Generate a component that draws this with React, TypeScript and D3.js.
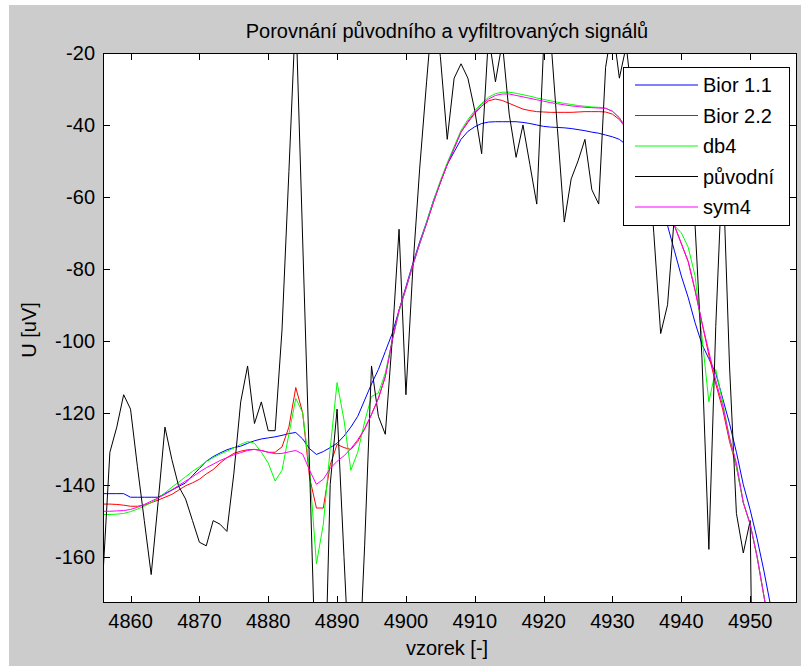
import React from 'react';
import * as d3 from 'd3';

// sample numbers start at 4856, one value per sample
const firstSample = 4856;

const bior11 = [
  -142.5, -142.5, -142.5, -142.5, -143.5, -143.5, -143.5, -143.5, -143.5, -142.5,
  -141.5, -140.5, -139.5, -137.5, -135.5, -133.5, -132.2, -131.2, -130.3, -129.7,
  -129.3, -128.5, -127.8, -127.3, -127, -126.7, -126.3, -125.8, -125.5, -127.3,
  -130, -131.6, -130.8, -129.7, -128.5, -126.5, -124, -121, -116.5, -112,
  -108, -103, -98, -91.5, -85, -78.5, -72.5, -67, -61, -56,
  -51, -47.5, -44, -41.8, -40.5, -39.6, -39.2, -39.1, -39.1, -39.1,
  -39.1, -39.3, -39.6, -40, -40.4, -40.6, -40.7, -40.8, -41, -41.3,
  -41.6, -42, -42.3, -42.8, -43.3, -44, -45.5, -47.5, -50.5, -54.5,
  -59, -63.5, -68, -75, -82, -88, -95, -101, -105, -109,
  -116, -123, -131, -140, -147, -155, -164, -174,
];

const bior22 = [
  -145.4, -145.4, -145.5, -145.7, -146, -146, -145.7, -145, -144.3, -143.5,
  -142.7, -141.5, -140.3, -139.5, -138.5, -137, -135.8, -134, -132.5, -131.3,
  -130.7, -130.3, -130.2, -130.5, -131, -131, -129.5, -124, -113, -120,
  -138, -146.5, -146.5, -134.5, -128.8, -129.7, -130.2, -128, -124.5, -120.5,
  -116, -110, -100, -91.5, -85.5, -79, -73, -67.4, -61.5, -56,
  -51, -46.5, -42, -39.3, -36.8, -34.8, -33.3, -32.8, -33.2, -34,
  -34.8, -35.6, -36, -36.3, -36.4, -36.5, -36.5, -36.5, -36.5, -36.4,
  -36.3, -36.3, -36.3, -36.4, -37, -38.5, -41, -45, -50, -55,
  -60.5, -64, -66, -68, -73, -78, -86, -95, -104, -112,
  -119, -128, -135, -145, -151, -160, -171, -182,
];

const db4 = [
  -148.3, -148.3, -148.2, -148, -147.5, -146.8, -146, -145, -143.8, -142.3,
  -140.7, -139.3, -137.8, -136.3, -135, -133.6, -132.5, -131.5, -130.7, -129.8,
  -128.8, -128, -128.5, -131, -134, -139, -136, -126, -116, -120,
  -136, -162, -151, -130, -111.6, -122, -136, -131, -122.5, -115.5,
  -114.5, -109, -100, -92, -85.5, -79, -73, -67, -61, -55.5,
  -50.5, -46, -41.5, -38.5, -36, -34, -32.3, -31.3, -30.9, -30.9,
  -31.2, -31.6, -32, -32.5, -32.9, -33.3, -33.7, -34, -34.3, -34.6,
  -34.8, -35, -35.1, -35.3, -36.2, -38, -41, -45, -50, -55,
  -60, -64, -66, -68, -70, -74, -82, -99, -117, -108,
  -117, -127, -135, -145, -151, -160, -171, -182,
];

const puvodni = [
  -165, -131, -124, -115, -119, -135, -150, -165, -145, -124,
  -133, -140.5, -144, -150, -156, -157, -150, -151, -153, -137,
  -117, -107, -123, -117, -125, -125, -97, -53, -8, -72,
  -135, -200, -215, -140, -119, -160, -200, -200, -157, -107,
  -121, -126, -100, -69, -115, -80, -52, -28, -5, -21,
  -44, -27, -23, -27, -36, -48, -15, -28, -17, -37,
  -49, -40, -51, -62, -18, -15, -41, -67, -55, -50,
  -44, -58, -62, -24, -12, -27, -18, -35, -30, -45,
  -70, -98, -90, -65, -40, -45, -68, -105, -158, -96,
  -50, -107, -148, -159, -150, -300,
];

const sym4 = [
  -147.4, -147.4, -147.3, -147.2, -146.9, -146.3, -145.5, -144.6, -143.7, -142.7,
  -141.5, -140.2, -139, -137.8, -136.5, -135.3, -134.3, -133.3, -132.5, -131.7,
  -131.1, -130.5, -130.2, -130.5, -131, -131.4, -131.3, -130.9, -130.5, -131.5,
  -136, -139.9, -138.5, -135.5, -133.5, -132, -130, -127.5, -124.5, -120.5,
  -116, -110, -100, -91.5, -85.5, -79, -73, -67.4, -61.5, -56,
  -51, -46.5, -42, -39, -36.5, -34.3, -32.8, -31.8, -31.4, -31.4,
  -31.8, -32.2, -32.6, -33, -33.4, -33.8, -34.1, -34.4, -34.7, -34.9,
  -35.1, -35.2, -35.3, -35.4, -36.2, -38, -41, -45, -50, -55,
  -60.5, -64, -66, -68, -73, -78, -86, -95, -103, -111,
  -118, -127, -134, -145, -151, -160, -171, -182,
];

const xTicks = [4860, 4870, 4880, 4890, 4900, 4910, 4920, 4930, 4940, 4950];
const yTicks = [-160, -140, -120, -100, -80, -60, -40, -20];

const series = [
  { name: 'Bior 1.1', values: bior11, color: '#0000ff' },
  { name: 'Bior 2.2', values: bior22, color: '#ff0000' },
  { name: 'db4', values: db4, color: '#00ff00' },
  { name: 'původní', values: puvodni, color: '#000000' },
  { name: 'sym4', values: sym4, color: '#ff00ff' },
];

const W = 801;
const H = 666;
const plot = { left: 103, top: 53, right: 797, bottom: 603 };
const font = '"Liberation Sans", Arial, sans-serif';
const fs = 20;

export default function App() {
  const x = d3.scaleLinear().domain([4856, 4956.8]).range([plot.left, plot.right]);
  const y = d3.scaleLinear().domain([-172.9, -20]).range([plot.bottom, plot.top]);

  const line = d3.line<number>()
    .x((_, i) => x(firstSample + i))
    .y(d => y(d));

  const tick = 7;
  const legend = { x: 623, y: 67, w: 166, h: 158 };

  return (
    <svg width={W} height={H} style={{ position: 'absolute', left: 0, top: 0 }} fontFamily={font}>
      <defs>
        <clipPath id="plotClip">
          <rect x={plot.left} y={plot.top} width={plot.right - plot.left} height={plot.bottom - plot.top} />
        </clipPath>
      </defs>
      <rect x={0} y={0} width={W} height={H} fill="#ffffff" />
      <rect x={9} y={5} width={W - 9} height={H - 5} fill="#cccccc" />
      <rect x={plot.left} y={plot.top} width={plot.right - plot.left} height={plot.bottom - plot.top} fill="#ffffff" />

      <g clipPath="url(#plotClip)">
        {series.map(s => (
          <path key={s.name} d={line(s.values) || ''} fill="none" stroke={s.color} strokeWidth={1} />
        ))}
      </g>

      {/* frame and ticks */}
      <rect x={plot.left + 0.5} y={plot.top + 0.5} width={plot.right - plot.left - 1} height={plot.bottom - plot.top - 1}
        fill="none" stroke="#000" strokeWidth={1} />
      {xTicks.map(t => (
        <g key={t}>
          <line x1={Math.round(x(t)) + 0.5} x2={Math.round(x(t)) + 0.5} y1={plot.bottom} y2={plot.bottom - tick} stroke="#000" />
          <line x1={Math.round(x(t)) + 0.5} x2={Math.round(x(t)) + 0.5} y1={plot.top} y2={plot.top + tick} stroke="#000" />
          <text x={x(t)} y={628} textAnchor="middle" fontSize={fs} fill="#000">{t}</text>
        </g>
      ))}
      {yTicks.map(t => (
        <g key={t}>
          <line x1={plot.left} x2={plot.left + tick} y1={Math.round(y(t)) + 0.5} y2={Math.round(y(t)) + 0.5} stroke="#000" />
          <line x1={plot.right} x2={plot.right - tick} y1={Math.round(y(t)) + 0.5} y2={Math.round(y(t)) + 0.5} stroke="#000" />
          <text x={95} y={y(t)} dy="0.36em" textAnchor="end" fontSize={fs} fill="#000">{t}</text>
        </g>
      ))}

      <text x={(plot.left + plot.right) / 2 - 3} y={38} textAnchor="middle" fontSize={fs} fill="#000">
        Porovnání původního a vyfiltrovaných signálů
      </text>
      <text x={(plot.left + plot.right) / 2 - 3} y={655} textAnchor="middle" fontSize={fs} fill="#000">vzorek [-]</text>
      <text transform={`translate(36, ${(plot.top + plot.bottom) / 2 + 2}) rotate(-90)`} textAnchor="middle" fontSize={fs} fill="#000">U [uV]</text>

      {/* legend */}
      <rect x={legend.x + 0.5} y={legend.y + 0.5} width={legend.w} height={legend.h} fill="#ffffff" stroke="#000" />
      {series.map((s, i) => {
        const ly = 85 + i * 30.5;
        return (
          <g key={s.name}>
            <line x1={635} x2={698} y1={ly} y2={ly} stroke={s.color} strokeWidth={1} />
            <text x={703} y={ly} dy="0.36em" fontSize={fs} fill="#000">{s.name}</text>
          </g>
        );
      })}
    </svg>
  );
}
